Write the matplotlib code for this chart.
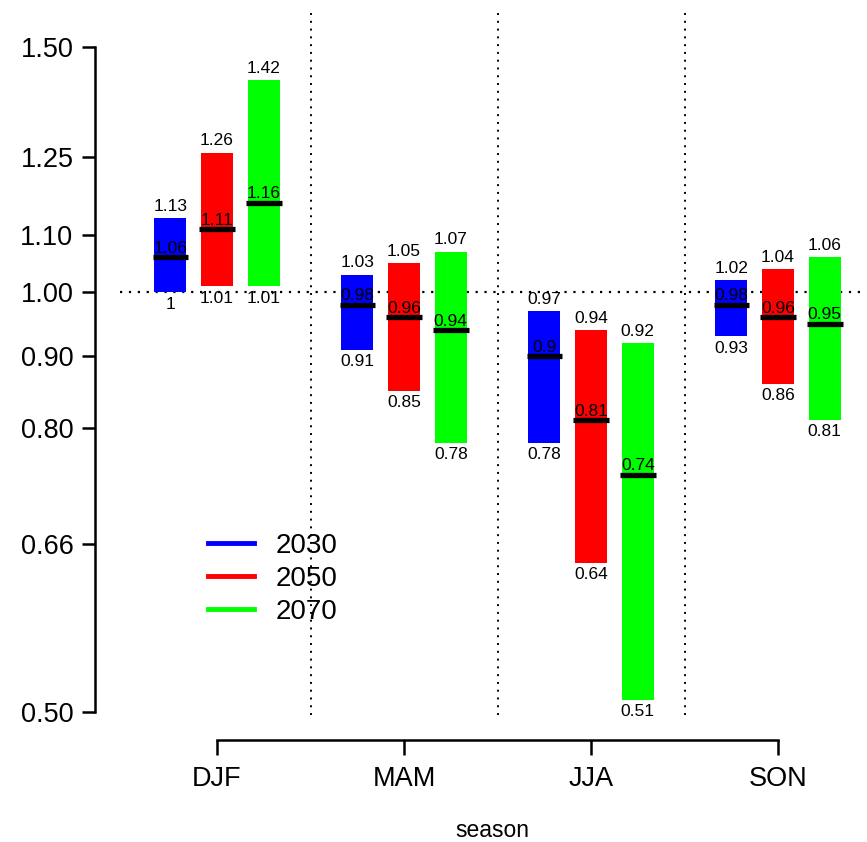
import numpy as np
import matplotlib
matplotlib.use("Agg")
import matplotlib.pyplot as plt
from matplotlib.lines import Line2D

plt.rcParams['font.family'] = ['Liberation Sans', 'DejaVu Sans']

# -------------------------
# Data
# -------------------------
seasons = ["DJF", "MAM", "JJA", "SON"]
years = ["2030", "2050", "2070"]
colors = ["#0000ff", "#ff0000", "#00ff00"]

low_2030 = [1.00, 0.91, 0.78, 0.93]
med_2030 = [1.06, 0.98, 0.90, 0.98]
high_2030 = [1.13, 1.03, 0.97, 1.02]

low_2050 = [1.01, 0.85, 0.64, 0.86]
med_2050 = [1.11, 0.96, 0.81, 0.96]
high_2050 = [1.26, 1.05, 0.94, 1.04]

low_2070 = [1.01, 0.78, 0.51, 0.81]
med_2070 = [1.16, 0.94, 0.74, 0.95]
high_2070 = [1.42, 1.07, 0.92, 1.06]

y_ticks = [0.50, 0.66, 0.80, 0.90, 1.00, 1.10, 1.25, 1.50]

lows = [low_2030, low_2050, low_2070]
meds = [med_2030, med_2050, med_2070]
highs = [high_2030, high_2050, high_2070]

# -------------------------
# Plot
# -------------------------
W, H = 867, 842
fig = plt.figure(figsize=(W / 100, H / 100), dpi=100)
ax = fig.add_axes([120 / W, 1 - 715 / H, (865 - 120) / W, (715 - 8) / H])

x = np.arange(1, len(seasons) + 1)
offsets = [-0.25, 0.0, 0.25]
bw = 0.17

def fmt(v):
    s = f"{v:.2f}".rstrip("0").rstrip(".")
    return s

for k in range(3):
    for i in range(len(seasons)):
        xc = x[i] + offsets[k]
        lo, md, hi = lows[k][i], meds[k][i], highs[k][i]
        ax.bar(xc, hi - lo, bottom=lo, width=bw, color=colors[k], zorder=2)
        ax.plot([xc - bw / 2 - 0.01, xc + bw / 2 + 0.01], [md, md], color="black",
                lw=3.8, solid_capstyle="butt", zorder=3)
        ax.annotate(fmt(hi), (xc, hi), xytext=(0, 3), textcoords="offset points",
                    ha="center", va="bottom", fontsize=12.5, zorder=4)
        ax.annotate(fmt(lo), (xc, lo), xytext=(0, -3), textcoords="offset points",
                    ha="center", va="top", fontsize=12.5, zorder=4)
        ax.annotate(fmt(md), (xc, md), xytext=(0, 1), textcoords="offset points",
                    ha="center", va="bottom", fontsize=12.5, zorder=4)

ax.set_yscale("log")
ax.set_ylim(0.4975, 1.60)
ax.set_xlim(0.481, 4.465)

ax.axhline(1.0, color="black", ls=(0, (1, 3)), lw=1.6, zorder=1)
for xv in [1.5, 2.5, 3.5]:
    ax.axvline(xv, color="black", ls=(0, (1, 3)), lw=1.4, zorder=1)

ax.set_yticks(y_ticks)
ax.set_yticklabels([f"{t:.2f}" for t in y_ticks])
ax.yaxis.set_minor_locator(matplotlib.ticker.NullLocator())
ax.set_xticks(x)
ax.set_xticklabels(seasons)

for s in ["top", "right"]:
    ax.spines[s].set_visible(False)
ax.spines["left"].set_bounds(0.5, 1.5)
ax.spines["left"].set_position(("outward", 18))
ax.spines["bottom"].set_bounds(1, 4)
ax.spines["bottom"].set_position(("outward", 18))
ax.spines["left"].set_linewidth(1.8)
ax.spines["bottom"].set_linewidth(1.8)
ax.tick_params(axis="y", length=9.5, width=1.8, labelsize=19.5, pad=6)
ax.tick_params(axis="x", length=11, width=1.8, labelsize=19.5, pad=8)
ax.set_xlabel("season", fontsize=16.5, labelpad=19)

handles = [Line2D([0], [0], color=c, lw=3.5) for c in colors]
fig.legend(handles, years, loc="upper left", bbox_to_anchor=(183 / W, 1 - 508 / H),
           frameon=False, fontsize=20, handlelength=1.65, handletextpad=0.8,
           labelspacing=0.25)

fig.savefig("out.png", dpi=100)
